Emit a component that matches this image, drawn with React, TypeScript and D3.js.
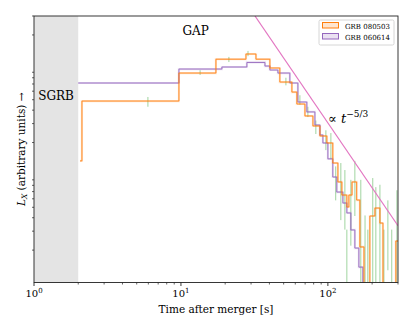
import React from "react";
import * as d3 from "d3";

const W = 415;
const H = 332;
const margin = { top: 16, right: 17, bottom: 49.5, left: 34 };

const tDomain = [1, 300];
const lDomain = [1, 300];
const sgrbSpan = [1, 2];

// GRB 080503: bin start times [s] and levels
const grb080503T = [2.056, 2.12, 9.69, 17.3, 27.7, 32.4, 40.3, 47.1, 56.9, 61.5, 69.8, 79.1, 88.3, 98.4, 108, 117, 124.5, 134.6, 139, 146, 157, 165, 176, 193, 209, 226, 237, 290];
const grb080503L = [13.5, 48.6, 88.5, 119, 133, 119, 98.6, 73, 58.9, 45.6, 35.3, 28.5, 23.0, 19.8, 12.9, 8.6, 6.5, 5.03, 6.5, 8.6, 5.84, 2.14, 0.5, 4.15, 4.92, 3.57, 0.5, 2.43];
const grb080503End = 300;

// GRB 060614
const grb060614T = [2.0, 9.69, 19.0, 28.1, 37.3, 40.3, 45.7, 55.1, 62.5, 71.9, 81.6, 88.3, 92.5, 100, 108, 115, 126.5, 134.6, 143.3, 152.6, 162.5, 173];
const grb060614L = [71.5, 96.4, 100.7, 111, 102.8, 94.4, 88.5, 71.5, 47.6, 38.5, 29.1, 23.5, 19.8, 14.1, 9.56, 6.93, 5.48, 4.43, 3.08, 2.09, 1.39, 0.5];
const grb060614End = 180;

// error bars (green)
const errT = [5.96, 13.5, 21.2, 28.6, 51.8, 64.5, 73.1, 82.8, 96.9, 104.8, 113, 122.5, 130.5, 134.6, 143.3, 152.6, 167.5, 179, 187, 202, 212, 226, 240.6, 256, 272, 295];
const errLo = [43, 85, 112, 127, 68, 45, 34.5, 24, 17, 14, 5.8, 3.8, 3.1, 0.5, 2.2, 4.15, 0.5, 0.5, 0.5, 0.5, 0.5, 0.5, 0.5, 1.3, 0.5, 0.5];
const errHi = [53, 94, 125, 142, 80, 55, 43, 32, 26, 24.5, 12, 12.9, 11.1, 3.1, 9.0, 13.5, 9.0, 4.2, 3.1, 9.35, 7.7, 8.1, 3.1, 5.8, 3.1, 7.2];

// power law guide
const lawT = [31.9, 300];
const lawL = [300, 3.37];

const seriesNames = ["GRB 080503", "GRB 060614"];
const seriesColors = ["#ff7f0e", "#9467bd"];

const FONT = "'DejaVu Serif', 'Liberation Serif', serif";

export default function App() {
  const x = d3.scaleLog().domain(tDomain).range([margin.left, W - margin.right]);
  const y = d3.scaleLog().domain(lDomain).range([H - margin.bottom, margin.top]);
  const x0 = margin.left, x1 = W - margin.right, y0 = H - margin.bottom, y1 = margin.top;

  const step = d3
    .line<[number, number]>()
    .x((d) => x(d[0]))
    .y((d) => y(d[1]))
    .curve(d3.curveStepAfter);

  const pts = (ts: number[], ls: number[], end: number) => {
    const p: [number, number][] = ts.map((t, i) => [t, ls[i]]);
    p.push([end, ls[ls.length - 1]]);
    return p;
  };
  const orangePath = step(pts(grb080503T, grb080503L, grb080503End)) || "";
  const purplePath = step(pts(grb060614T, grb060614L, grb060614End)) || "";

  const isMajor = (v: number) => Math.abs(Math.log10(v) - Math.round(Math.log10(v))) < 1e-9;
  const xTicks = x.ticks();
  const yTicks = y.ticks().filter((v) => !isMajor(v));

  return (
    <svg width={W} height={H} style={{ position: "absolute", left: 0, top: 0, background: "#fff", fontFamily: FONT }}>
      <defs>
        <clipPath id="plot">
          <rect x={x0} y={y1} width={x1 - x0} height={y0 - y1} />
        </clipPath>
      </defs>
      <rect x={x(sgrbSpan[0])} y={y1} width={x(sgrbSpan[1]) - x(sgrbSpan[0])} height={y0 - y1} fill="#e4e4e4" />
      <g clipPath="url(#plot)">
        {errT.map((t, i) => (
          <line key={i} x1={x(t)} x2={x(t)} y1={y(errLo[i])} y2={y(errHi[i])} stroke="#2ca02c" strokeOpacity={0.45} strokeWidth={1} />
        ))}
        <path d={purplePath} fill="none" stroke={seriesColors[1]} strokeOpacity={0.2} strokeWidth={2.2} />
        <path d={orangePath} fill="none" stroke={seriesColors[0]} strokeOpacity={0.2} strokeWidth={2.2} />
        <path d={purplePath} fill="none" stroke={seriesColors[1]} strokeWidth={0.9} />
        <path d={orangePath} fill="none" stroke={seriesColors[0]} strokeWidth={0.9} />
        <line x1={x(lawT[0])} y1={y(lawL[0])} x2={x(lawT[1])} y2={y(lawL[1])} stroke="#e377c2" strokeWidth={1.2} />
      </g>
      <rect x={x0} y={y1} width={x1 - x0} height={y0 - y1} fill="none" stroke="#222" strokeWidth={0.9} />
      {xTicks.map((t, i) => (
        <line key={i} x1={x(t)} x2={x(t)} y1={y0} y2={y0 + (isMajor(t) ? 3.5 : 2)} stroke="#222" strokeWidth={isMajor(t) ? 0.9 : 0.7} />
      ))}
      {xTicks.filter(isMajor).map((t, i) => (
        <text key={i} x={x(t)} y={y0 + 14.5} textAnchor="middle" fontSize={10}>
          10<tspan dy={-4.5} fontSize={7}>{Math.round(Math.log10(t))}</tspan>
        </text>
      ))}
      {yTicks.map((v, i) => (
        <line key={i} x1={x0} x2={x0 - 2} y1={y(v)} y2={y(v)} stroke="#222" strokeWidth={0.7} />
      ))}
      <text x={(x0 + x1) / 2} y={y0 + 30} textAnchor="middle" fontSize={10.5}>
        Time after merger [s]
      </text>
      <text transform={`translate(25,${(y0 + y1) / 2}) rotate(-90)`} textAnchor="middle" fontSize={10.5}>
        <tspan fontStyle="italic">L</tspan>
        <tspan fontStyle="italic" fontSize={7.5} dy={2}>X</tspan>
        <tspan dy={-2}> (arbitrary units) →</tspan>
      </text>
      <text x={x(12.6)} y={y(200)} textAnchor="middle" fontSize={12}>GAP</text>
      <text x={x(1.414)} y={y(50)} textAnchor="middle" fontSize={12}>SGRB</text>
      <text x={328} y={123} fontSize={13}>
        ∝ <tspan fontStyle="italic">t</tspan>
        <tspan fontSize={9} dy={-6}>−5/3</tspan>
      </text>
      <g transform="translate(319,20)">
        <rect x={0} y={0} width={75} height={25} fill="#fff" fillOpacity={0.8} stroke="#ccc" strokeWidth={0.8} rx={1.5} />
        {seriesNames.map((n, i) => (
          <g key={n} transform={`translate(0,${i * 11})`}>
            <rect x={3.5} y={2.5} width={16} height={5.5} fill={seriesColors[i]} fillOpacity={0.2} stroke={seriesColors[i]} strokeWidth={1} />
            <text x={26} y={8.5} fontSize={7}>{n}</text>
          </g>
        ))}
      </g>
    </svg>
  );
}
